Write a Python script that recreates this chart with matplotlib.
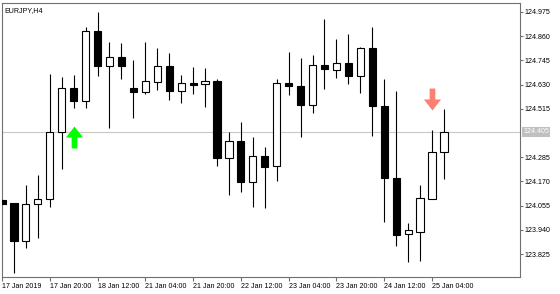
import numpy as np
from matplotlib import pyplot as plt
from matplotlib.patches import Rectangle
from matplotlib.path import Path

plt.rcParams['font.family'] = ['Liberation Sans', 'DejaVu Sans']

# EURJPY H4 bars, 17 Jan 04:00 onwards
opens = [124.082, 124.067, 123.887, 124.063, 124.086, 124.405, 124.614, 124.552,
         124.885, 124.718, 124.761, 124.614, 124.595, 124.642, 124.718, 124.600,
         124.638, 124.633, 124.647, 124.281, 124.362, 124.167, 124.291, 124.243,
         124.638, 124.623, 124.533, 124.723, 124.699, 124.733, 124.671, 124.804,
         124.528, 124.186, 123.920, 123.930, 124.086, 124.310]
highs = [124.086, 124.068, 124.153, 124.200, 124.680, 124.666, 124.676, 124.904,
         124.975, 124.832, 124.828, 124.747, 124.832, 124.804, 124.780, 124.676,
         124.714, 124.709, 124.657, 124.405, 124.452, 124.381, 124.333, 124.657,
         124.785, 124.756, 124.771, 124.942, 124.847, 124.870, 124.809, 124.904,
         124.657, 124.600, 123.972, 124.153, 124.414, 124.514]
lows = [124.058, 123.735, 123.854, 123.901, 124.048, 124.229, 124.519, 124.519,
        124.671, 124.424, 124.657, 124.471, 124.585, 124.604, 124.557, 124.543,
        124.585, 124.524, 124.243, 124.105, 124.120, 124.048, 124.044, 124.172,
        124.581, 124.381, 124.495, 124.609, 124.661, 124.633, 124.590, 124.386,
        123.977, 123.863, 123.787, 123.792, 124.086, 124.181]
closes = [124.063, 123.887, 124.063, 124.086, 124.405, 124.614, 124.552, 124.885,
          124.718, 124.761, 124.718, 124.595, 124.647, 124.718, 124.600, 124.638,
          124.628, 124.647, 124.281, 124.362, 124.167, 124.291, 124.238, 124.638,
          124.623, 124.533, 124.723, 124.704, 124.733, 124.671, 124.804, 124.528,
          124.186, 123.915, 123.939, 124.091, 124.310, 124.405]

tick_bars = [0, 4, 8, 12, 16, 20, 24, 28, 32, 36]
tick_labels = ["17 Jan 2019", "17 Jan 20:00", "18 Jan 12:00", "21 Jan 04:00",
               "21 Jan 20:00", "22 Jan 12:00", "23 Jan 04:00", "23 Jan 20:00",
               "24 Jan 12:00", "25 Jan 04:00"]
price_ticks = [124.975, 124.860, 124.745, 124.630, 124.515,
               124.285, 124.170, 124.055, 123.940, 123.825]
current_price = 124.405

buy_bars = [6]
buy_prices = [124.379]
sell_bars = [36]
sell_prices = [124.562]


def arrow_marker(up=True):
    verts = [(0, 0.5), (0.39, 0.0), (0.13, 0.0), (0.13, -0.5),
             (-0.13, -0.5), (-0.13, 0.0), (-0.39, 0.0), (0, 0.5)]
    if not up:
        verts = [(x, -y) for x, y in verts]
    return Path(verts, closed=True)


def draw_candles(ax, o, h, l, c, width=0.6):
    for i in range(len(o)):
        ax.vlines(i, l[i], h[i], color='black', lw=0.8, zorder=2)
        bottom = min(o[i], c[i])
        height = max(abs(c[i] - o[i]), 0.002)
        face = 'white' if c[i] >= o[i] else 'black'
        ax.add_patch(Rectangle((i - width / 2, bottom), width, height,
                               facecolor=face, edgecolor='black', lw=0.8, zorder=3))


fig = plt.figure(figsize=(5.6, 2.94), dpi=100)
ax = fig.add_axes([2 / 560, 17 / 294, 518 / 560, 274.5 / 294])

ax.axhline(current_price, color='#c8c8c8', lw=0.8, zorder=1)
draw_candles(ax, opens, highs, lows, closes)

ax.plot(buy_bars, buy_prices, ls='none', marker=arrow_marker(True),
        markersize=15.8, color='#00ff00', markeredgewidth=0, zorder=4)
ax.plot(sell_bars, sell_prices, ls='none', marker=arrow_marker(False),
        markersize=15.8, color='#fa8072', markeredgewidth=0, zorder=4)

ax.set_xlim(0.06, 43.37)
ax.set_ylim(123.716, 125.020)

ax.set_xticks(tick_bars)
ax.set_xticklabels(tick_labels, ha='left')
ax.set_yticks(price_ticks)
ax.set_yticklabels(["%.3f" % p for p in price_ticks])
ax.yaxis.tick_right()

for s in ax.spines.values():
    s.set_color('#707070')
    s.set_linewidth(0.8)
ax.tick_params(axis='both', direction='out', color='#707070', width=0.8,
               labelsize=5.1, labelcolor='black')
ax.tick_params(axis='x', length=3, pad=1.5)
ax.tick_params(axis='y', length=2.5, pad=0.8)

ax.text(0.004, 0.982, "EURJPY,H4", transform=ax.transAxes, fontsize=5.1,
        ha='left', va='top')

ax.annotate("%.3f" % current_price, xy=(1, current_price),
            xycoords=('axes fraction', 'data'), xytext=(2.3, 0),
            textcoords='offset points', ha='left', va='center',
            fontsize=5.1, color='white',
            bbox=dict(boxstyle='square,pad=0.15', facecolor='#c0c0c0', edgecolor='none'))

fig.savefig("out.png", dpi=100)
